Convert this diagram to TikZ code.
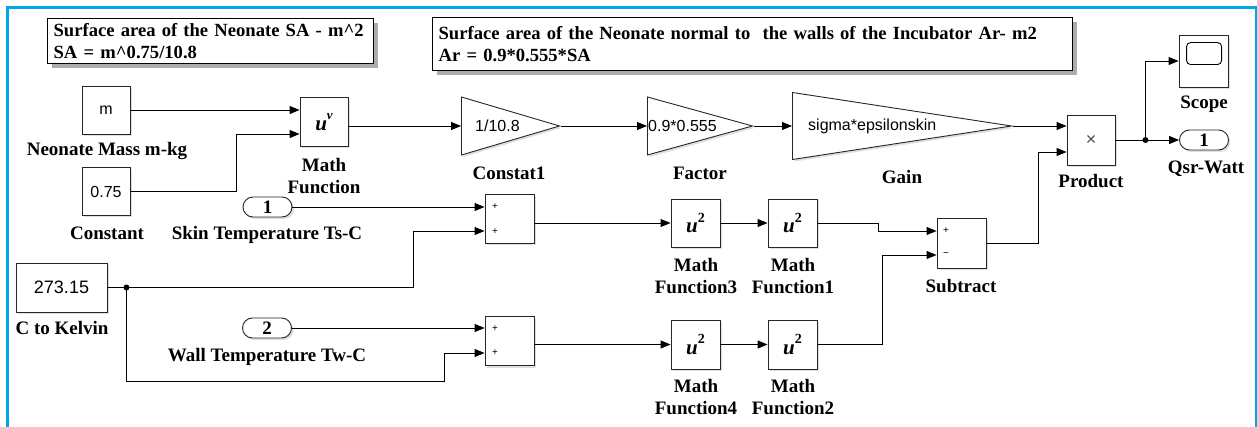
\documentclass[tikz,border=0pt]{standalone}
\usepackage{fontspec}
\setmainfont{Liberation Serif}
\setsansfont{Liberation Sans}
\usetikzlibrary{arrows.meta,shapes.geometric,shadows}
\definecolor{framecol}{RGB}{0,168,232}

\newcommand{\lblfont}{\fontsize{19}{22}\selectfont\bfseries}
\newcommand{\notefont}{\fontsize{18.6}{22}\selectfont\bfseries}
\newcommand{\valfont}{\fontsize{16}{18}\selectfont\sffamily}
\newcommand{\usq}{\textbf{\textit{u}}\raisebox{1.1ex}{\fontsize{14}{14}\selectfont\bfseries 2}}
\newcommand{\upow}{\textbf{\textit{u}}\raisebox{1.2ex}{\fontsize{13}{13}\selectfont\bfseries\itshape v}}

\begin{document}
\begin{tikzpicture}[x=1pt, y=-1pt, >={Triangle[length=10pt,width=8pt]},
  block/.style={draw=black!85, fill=white, line width=0.9pt, minimum width=48pt, minimum height=48pt,
    inner sep=0pt, font=\valfont, drop shadow={shadow xshift=2pt, shadow yshift=-2pt, opacity=.25}},
  gainbox/.style={draw=black!85, fill=white, line width=0.9pt, isosceles triangle, isosceles triangle stretches,
    shape border rotate=0, inner sep=0pt, anchor=west, drop shadow={shadow xshift=2pt, shadow yshift=-2pt, opacity=.25}},
  port/.style={draw=black!85, fill=white, line width=0.9pt, rounded corners=10pt, minimum width=49pt,
    minimum height=20pt, inner sep=0pt, font=\lblfont, drop shadow={shadow xshift=2pt, shadow yshift=-2pt, opacity=.25}},
  note/.style={draw, fill=white, line width=1.3pt, inner xsep=6pt, inner ysep=0pt, align=left, font=\notefont,
    anchor=north west, drop shadow={shadow xshift=4pt, shadow yshift=-4pt, opacity=.65}},
  blockname/.style={font=\lblfont, align=center, inner sep=0pt},
  gaintext/.style={font=\valfont, inner sep=0pt, anchor=west},
  sign/.style={font=\fontsize{10}{10}\selectfont\sffamily, inner sep=0pt},
  wire/.style={->, line width=0.9pt}
]
  \useasboundingbox (0,0) rectangle (1257,427);
  \draw[framecol, line width=3pt] (7,427) -- (7,8) -- (1256,8) -- (1256,427);

  % notes
  \node[note, minimum width=326pt, minimum height=45pt, text width=314pt] (note1) at (47,18)
    {Surface area of the Neonate SA - m\textasciicircum 2\\SA = m\textasciicircum 0.75/10.8};
  \node[note, minimum width=640pt, minimum height=53pt, text width=628pt] (note2) at (432,17)
    {Surface area of the Neonate normal to~ the walls of the Incubator Ar- m2\\Ar = 0.9*0.555*SA};

  % blocks
  \node[block] (mass) at (106,110) {m};
  \node[block] (const) at (106,191.5) {0.75};
  \node[block, minimum height=49pt, font=\fontsize{21}{21}\selectfont] (mathfn) at (324,122) {\upow};
  \node[gainbox, minimum height=98pt, minimum width=58pt] (c1) at (461,126) {};
  \node[gainbox, minimum height=105pt, minimum width=58pt] (f1) at (647,126) {};
  \node[gainbox, minimum height=219pt, minimum width=67pt] (gain) at (792,126) {};
  \node[block, minimum height=50pt, font=\fontsize{18}{18}\selectfont\sffamily\color{black!70}] (prod) at (1091,140) {×};
  \node[block, minimum width=49pt, minimum height=52pt] (scope) at (1203.5,61) {};
  \node[port] (qsr) at (1204,140) {1};

  \node[port] (in1) at (267.5,207) {1};
  \node[port] (in2) at (267,328) {2};
  \node[block, minimum width=91pt, minimum height=49pt, font=\fontsize{18}{18}\selectfont\sffamily] (kelvin) at (61.5,287.5) {273.15};
  \node[block, minimum width=49pt, minimum height=49pt] (sum1) at (509.5,219) {};
  \node[block, minimum width=49pt, minimum height=49pt] (sum2) at (509.5,341) {};
  \node[block, minimum width=49pt, font=\fontsize{21}{21}\selectfont] (mf3) at (695.5,223) {\usq};
  \node[block, minimum width=49pt, font=\fontsize{21}{21}\selectfont] (mf1) at (792.5,223) {\usq};
  \node[block, minimum width=49pt, minimum height=49pt, font=\fontsize{21}{21}\selectfont] (mf4) at (695.5,344.5) {\usq};
  \node[block, minimum width=49pt, minimum height=49pt, font=\fontsize{21}{21}\selectfont] (mf2) at (792.5,344.5) {\usq};
  \node[block, minimum width=49pt, minimum height=50pt] (sub) at (961.5,243) {};

  % texts inside
  \node[gaintext] (c1val) at (475,126) {1/10.8};
  \node[gaintext] (f1val) at (648,126) {0.9*0.555};
  \node[gaintext] (gainval) at (808,126) {sigma*epsilonskin};
  \draw[line width=0.9pt, rounded corners=4pt] ([xshift=8pt,yshift=-8pt]scope.north west) rectangle ++(35,22);
  \node[sign] (s1a) at (495,207) {+};
  \node[sign] (s1b) at (495,232) {+};
  \node[sign] (s2a) at (495,329) {+};
  \node[sign] (s2b) at (495,353) {+};
  \node[sign] (sba) at (946,231) {+};
  \node[sign] (sbb) at (946,255) {−};

  % block names
  \node[blockname] (massname) at (107,151) {Neonate Mass m-kg};
  \node[blockname] (constname) at (107,233) {Constant};
  \node[blockname] (mathname) at (324,176) {Math\\Function};
  \node[blockname] (c1name) at (509,173) {Constat1};
  \node[blockname] (f1name) at (700,173) {Factor};
  \node[blockname] (gainname) at (902,177) {Gain};
  \node[blockname] (prodname) at (1091,181) {Product};
  \node[blockname] (scopename) at (1204,104) {Scope};
  \node[blockname] (qsrname) at (1206,169) {Qsr-Watt};
  \node[blockname] (in1name) at (267,235) {Skin Temperature Ts-C};
  \node[blockname] (kelvinname) at (62,328) {C to Kelvin};
  \node[blockname] (in2name) at (267,357) {Wall Temperature Tw-C};
  \node[blockname] (mf3name) at (696,276) {Math\\Function3};
  \node[blockname] (mf1name) at (793,276) {Math\\Function1};
  \node[blockname] (subname) at (961,286) {Subtract};
  \node[blockname] (mf4name) at (696,397) {Math\\Function4};
  \node[blockname] (mf2name) at (793,397) {Math\\Function2};

  % signal lines
  \coordinate (j) at ([xshift=30pt]prod.east);
  \coordinate (k) at ([xshift=19pt]kelvin.east);
  \draw[wire] (mass.east) -- (mass.east -| mathfn.west);
  \draw[wire] (const.east) -- ++(106,0) |- ([yshift=-12pt]mathfn.west);
  \draw[wire] (mathfn.east |- c1.west) -- (c1.west);
  \draw[wire] (c1.apex) -- (f1.west);
  \draw[wire] (f1.apex) -- (gain.west);
  \draw[wire] (gain.apex) -- (gain.apex -| prod.west);
  \draw[wire] (prod.east) -- (qsr.west);
  \draw[wire] (j) |- (scope.west);
  \fill (j) circle (3pt);

  \draw[wire] (in1.east) -- (in1.east -| sum1.west);
  \draw[line width=0.9pt] (kelvin.east) -- (k);
  \draw[wire] (k) -- ++(287,0) |- ([yshift=-12pt]sum1.west);
  \draw[wire] (k) |- ++(318,94) |- ([yshift=-12pt]sum2.west);
  \fill (k) circle (3pt);
  \draw[wire] (in2.east) -- (in2.east -| sum2.west);

  \draw[wire] (sum1.east |- mf3.west) -- (mf3.west);
  \draw[wire] (mf3) -- (mf1);
  \draw[wire] (mf1.east) -- ++(61,0) |- ([yshift=12pt]sub.west);
  \draw[wire] (sum2.east |- mf4.west) -- (mf4.west);
  \draw[wire] (mf4) -- (mf2);
  \draw[wire] (mf2.east) -- ++(65,0) |- ([yshift=-12pt]sub.west);
  \draw[wire] (sub.east) -- ++(52,0) |- ([yshift=-12pt]prod.west);
\end{tikzpicture}
\end{document}
